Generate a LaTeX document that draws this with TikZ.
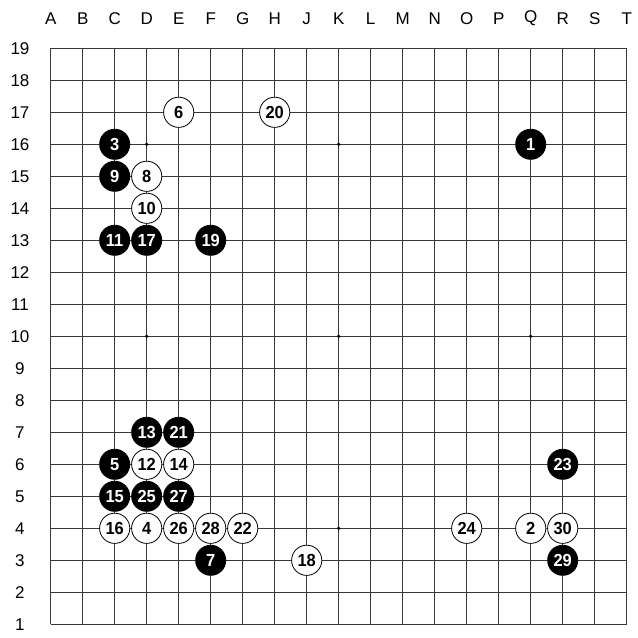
\documentclass[tikz,border=0pt]{standalone}
\usepackage{fontspec}
\setmainfont{Liberation Sans}
\newfontfamily\stonefont[FakeStretch=0.94]{Liberation Sans}
\usetikzlibrary{positioning}
\definecolor{gridgray}{gray}{0.22}

\begin{document}
\begin{tikzpicture}[x=32pt,y=32pt,
      lbl/.style={font=\fontsize{17}{17}\selectfont,inner sep=0pt},
      bst/.style={circle,fill=black,text=white,minimum size=31pt,inner sep=0pt,
                  font=\stonefont\fontsize{17.5}{17}\selectfont\bfseries},
      wst/.style={circle,draw=black,line width=0.8pt,fill=white,minimum size=30.2pt,
                  inner sep=0pt,font=\stonefont\fontsize{17.5}{17}\selectfont\bfseries},
      hoshi/.style={circle,fill=black,inner sep=0pt,minimum size=3.6pt}]
    \useasboundingbox (-1.584,-0.428) rectangle (18.322,19.509);
    % board lines
    \foreach \i in {0,...,18} {
      \draw[gridgray,line width=0.9pt] (\i,0) -- (\i,18);
      \draw[gridgray,line width=0.9pt] (0,\i) -- (18,\i);}
    % coordinates round the board
    \foreach \c [count=\i from 0] in {A,B,C,D,E,F,G,H,J,K,L,M,N,O,P,Q,R,S,T}
      \node[lbl] (col\c) at (\i,18.93) {\c};
    \foreach \r in {1,...,19}
      \node[lbl] (row\r) at (-0.96,\r-1) {\r};
    % star points
    \foreach \x in {3,9,15} {
      \foreach \y in {3,9,15} {
        \node[hoshi] (hs\x-\y) at (\x,\y) {};}}
    % black moves
    \foreach \n/\x/\y in {1/15/15,3/2/15,5/2/5,7/5/2,9/2/14,11/2/12,13/3/6,
                          15/2/4,17/3/12,19/5/12,21/4/6,23/16/5,25/3/4,
                          27/4/4,29/16/2}
      \node[bst] (mv\n) at (\x,\y) {\n};
    % white moves
    \foreach \n/\x/\y in {2/15/3,4/3/3,6/4/16,8/3/14,10/3/13,12/3/5,14/4/5,
                          16/2/3,18/8/2,20/7/16,22/6/3,24/13/3,26/4/3,
                          28/5/3,30/16/3}
      \node[wst] (mv\n) at (\x,\y) {\n};
  \end{tikzpicture}
\end{document}
